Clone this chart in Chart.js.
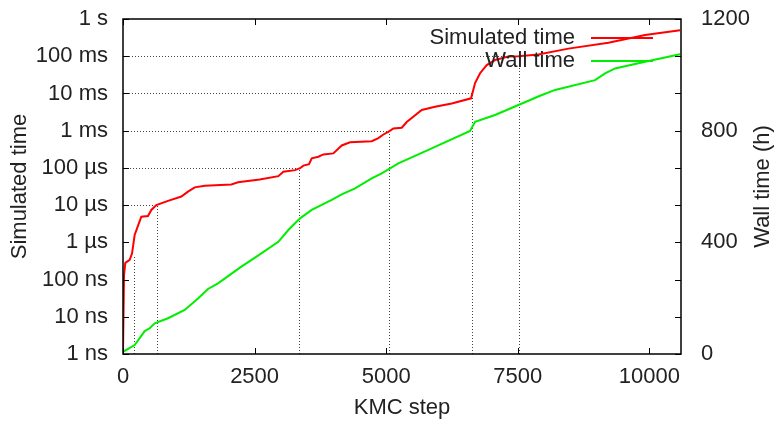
<!DOCTYPE html>
<html>
<head>
<meta charset="utf-8">
<script src="https://cdn.jsdelivr.net/npm/chart.js@4/dist/chart.umd.min.js"></script>
<style>
  html, body { margin: 0; padding: 0; background: #fff; }
</style>
</head>
<body>
<canvas id="chart" width="779" height="421"></canvas>
<script>
// ==================== DATA ====================
const simSteps = [0, 19, 44, 127, 171, 222, 253, 348, 475, 538, 633, 855, 1108, 1235, 1362, 1552, 2058, 2185, 2597, 2951, 3046, 3268, 3363, 3426, 3534, 3585, 3711, 3806, 3996, 4155, 4313, 4725, 4851, 4946, 5041, 5136, 5295, 5390, 5675, 5928, 6245, 6612, 6688, 6783, 6910, 7068, 7321, 7511, 7891, 8461, 9221, 9918, 10583];
const simTime = [1.1e-9, 1.3e-7, 2.8e-7, 3.4e-7, 5e-7, 1.6e-6, 2.1e-6, 4.9e-6, 5.1e-6, 7.4e-6, 1.0e-5, 1.3e-5, 1.7e-5, 2.3e-5, 3.0e-5, 3.3e-5, 3.6e-5, 4.1e-5, 4.9e-5, 6.0e-5, 7.9e-5, 8.7e-5, 9.8e-5, 1.15e-4, 1.26e-4, 1.8e-4, 2.0e-4, 2.3e-4, 2.45e-4, 4.0e-4, 4.9e-4, 5.2e-4, 6.3e-4, 7.9e-4, 9.3e-4, 1.15e-3, 1.2e-3, 1.7e-3, 3.6e-3, 4.4e-3, 5.4e-3, 7.4e-3, 1.9e-2, 3.5e-2, 5.8e-2, 7.9e-2, 9.8e-2, 0.1, 0.112, 0.16, 0.23, 0.37, 0.5];

const wallSteps = [0, 222, 412, 507, 602, 855, 1172, 1425, 1615, 1805, 2248, 2508, 2951, 3141, 3363, 3585, 3965, 4155, 4408, 4725, 4915, 5231, 5801, 6593, 6688, 7068, 7511, 7923, 8208, 8968, 9158, 9348, 9918, 10583];
const wallHours = [8, 32, 82, 92, 110, 128, 158, 199, 233, 253, 313, 345, 402, 444, 486, 516, 552, 572, 593, 629, 647, 683, 731, 799, 832, 856, 892, 925, 946, 981, 1005, 1023, 1047, 1074];

const timeTicks = [1e-9, 1e-8, 1e-7, 1e-6, 1e-5, 1e-4, 1e-3, 1e-2, 1e-1, 1];
const timeLabels = ['1 ns', '10 ns', '100 ns', '1 µs', '10 µs', '100 µs', '1 ms', '10 ms', '100 ms', '1 s'];
const wallTicks = [0, 400, 800, 1200];
const stepTicks = [0, 2500, 5000, 7500, 10000];

// where the simulated time passes each decade (drop lines)
const markSteps = [209, 652, 3350, 5054, 6637, 7524];
const markTimes = [4.6e-7, 1e-5, 1e-4, 1e-3, 1e-2, 1e-1];
const markHoriz = [false, true, true, true, true, true];

const FONT = { family: '"Liberation Sans", Arial, sans-serif', size: 22 };
const TEXT = '#222';

// ==================== PLUGINS ====================
const dropLines = {
  id: 'dropLines',
  beforeDatasetsDraw(chart) {
    const { ctx, chartArea: a, scales: { x, y } } = chart;
    ctx.save();
    ctx.strokeStyle = '#444';
    ctx.lineWidth = 1;
    ctx.setLineDash([1, 2]);
    markSteps.forEach((s, i) => {
      const px = Math.round(x.getPixelForValue(s)) + 0.5;
      const py = Math.round(y.getPixelForValue(markTimes[i])) + 0.5;
      ctx.beginPath();
      ctx.moveTo(px, a.bottom);
      ctx.lineTo(px, py);
      if (markHoriz[i]) ctx.lineTo(a.left, py);
      ctx.stroke();
    });
    ctx.restore();
  }
};

const frame = {
  id: 'frame',
  afterDatasetsDraw(chart) {
    const { ctx, chartArea: a, scales: { x, y } } = chart;
    ctx.save();
    ctx.strokeStyle = '#000';
    ctx.lineWidth = 1.5;
    ctx.strokeRect(a.left, a.top, a.right - a.left, a.bottom - a.top);
    ctx.lineWidth = 1;
    ctx.beginPath();
    timeTicks.forEach(v => {
      const py = Math.round(y.getPixelForValue(v)) + 0.5;
      ctx.moveTo(a.left, py); ctx.lineTo(a.left + 6, py);
      ctx.moveTo(a.right, py); ctx.lineTo(a.right - 6, py);
    });
    stepTicks.forEach(v => {
      const px = Math.round(x.getPixelForValue(v)) + 0.5;
      ctx.moveTo(px, a.bottom); ctx.lineTo(px, a.bottom - 6);
      ctx.moveTo(px, a.top); ctx.lineTo(px, a.top + 6);
    });
    ctx.stroke();

    // gnuplot style key
    const keys = [['Simulated time', '#ff0000'], ['Wall time', '#00ee00']];
    ctx.font = `${FONT.size}px ${FONT.family}`;
    ctx.textAlign = 'right';
    ctx.textBaseline = 'middle';
    keys.forEach(([label, color], i) => {
      const ky = a.top + 19 + i * 23;
      ctx.fillStyle = TEXT;
      ctx.fillText(label, a.right - 106, ky);
      ctx.strokeStyle = color;
      ctx.lineWidth = 2;
      ctx.beginPath();
      ctx.moveTo(a.right - 90, ky);
      ctx.lineTo(a.right - 28, ky);
      ctx.stroke();
    });

    // right axis title, reading bottom to top like gnuplot's
    ctx.save();
    ctx.translate(a.right + 82, (a.top + a.bottom) / 2);
    ctx.rotate(-Math.PI / 2);
    ctx.textAlign = 'center';
    ctx.fillStyle = TEXT;
    ctx.fillText('Wall time (h)', 0, 0);
    ctx.restore();
    ctx.restore();
  }
};

const fitVertical = w => s => { s.width = w; s.paddingTop = 0; s.paddingBottom = 0; };

// ==================== CHART ====================
new Chart(document.getElementById('chart'), {
  type: 'line',
  data: {
    datasets: [
      {
        label: 'Simulated time',
        data: simSteps.map((s, i) => ({ x: s, y: simTime[i] })),
        borderColor: '#ff0000',
        borderWidth: 2,
        pointRadius: 0,
        tension: 0,
        yAxisID: 'y'
      },
      {
        label: 'Wall time',
        data: wallSteps.map((s, i) => ({ x: s, y: wallHours[i] })),
        borderColor: '#00ee00',
        borderWidth: 2,
        pointRadius: 0,
        tension: 0,
        yAxisID: 'y2'
      }
    ]
  },
  options: {
    responsive: false,
    animation: false,
    devicePixelRatio: 1,
    layout: { padding: { top: 19, left: 0, right: 0, bottom: 0 } },
    plugins: { legend: { display: false }, tooltip: { enabled: false } },
    scales: {
      x: {
        type: 'linear',
        min: 0,
        max: 10600,
        afterBuildTicks: s => { s.ticks = stepTicks.map(v => ({ value: v })); },
        afterFit: s => { s.height = 67; s.paddingLeft = 0; s.paddingRight = 0; },
        grid: { display: false, drawTicks: false },
        border: { display: false },
        ticks: { font: FONT, color: TEXT, padding: 10, maxRotation: 0, callback: v => String(v) },
        title: { display: true, text: 'KMC step', font: FONT, color: TEXT, padding: { top: 0, bottom: 0 } }
      },
      y: {
        type: 'logarithmic',
        position: 'left',
        min: 1e-9,
        max: 1,
        afterBuildTicks: s => { s.ticks = timeTicks.map(v => ({ value: v })); },
        afterFit: fitVertical(123),
        grid: { display: false, drawTicks: false },
        border: { display: false },
        ticks: { font: FONT, color: TEXT, padding: 15, callback: (v, i) => timeLabels[i] },
        title: { display: true, text: 'Simulated time', font: FONT, color: TEXT, padding: { top: 7, bottom: 0 } }
      },
      y2: {
        type: 'linear',
        position: 'right',
        min: 0,
        max: 1200,
        afterBuildTicks: s => { s.ticks = wallTicks.map(v => ({ value: v })); },
        afterFit: fitVertical(98),
        grid: { display: false, drawTicks: false },
        border: { display: false },
        ticks: { font: FONT, color: TEXT, padding: 20, callback: v => String(v) }
      }
    }
  },
  plugins: [dropLines, frame]
});
</script>
</body>
</html>
